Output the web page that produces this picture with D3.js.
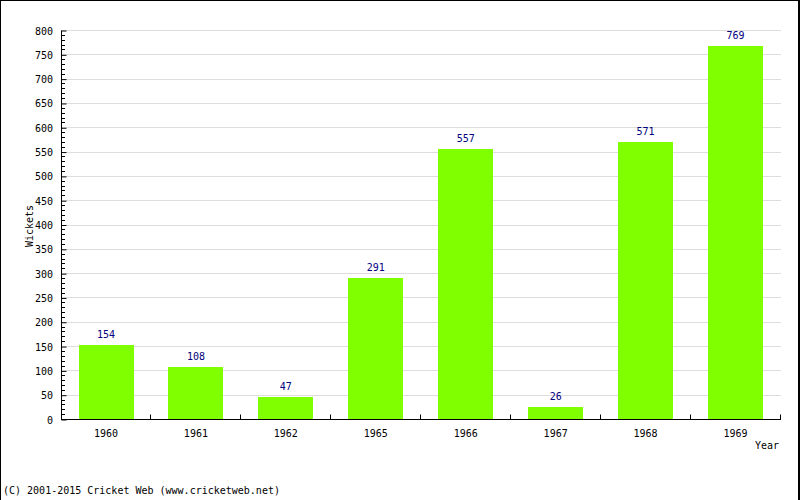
<!DOCTYPE html>
<html>
<head>
<meta charset="utf-8">
<script src="https://cdn.jsdelivr.net/npm/d3@7"></script>
<style>
  html, body { margin: 0; padding: 0; background: #fff; }
  svg { display: block; }
  text { font-family: "DejaVu Sans Mono", monospace; font-size: 10px; }
</style>
</head>
<body>
<svg id="chart" width="800" height="500"></svg>
<script>
const years = ["1960", "1961", "1962", "1965", "1966", "1967", "1968", "1969"];
const wickets = [154, 108, 47, 291, 557, 26, 571, 769];
const yMajorTicks = [0, 50, 100, 150, 200, 250, 300, 350, 400, 450, 500, 550, 600, 650, 700, 750, 800];
const yMinorTicks = d3.range(0, 801, 10);

(function () {
const svg = d3.select("#chart");
const pLeft = 61, pRight = 780.5, pTop = 30.5, pBottom = 419.5;

// frame
svg.append("rect").attr("x", 0).attr("y", 0).attr("width", 800).attr("height", 500).attr("fill", "#fff");
svg.append("line").attr("x1", 0).attr("x2", 800).attr("y1", 0.5).attr("y2", 0.5).attr("stroke", "#000");
svg.append("line").attr("x1", 0.5).attr("x2", 0.5).attr("y1", 0).attr("y2", 500).attr("stroke", "#000");
svg.append("line").attr("x1", 799).attr("x2", 799).attr("y1", 0).attr("y2", 500).attr("stroke", "#000").attr("stroke-width", 2);

const x = d3.scaleBand().domain(years).range([pLeft, pRight]).padding(0);
const y = d3.scaleLinear().domain([0, 800]).range([pBottom, pTop]);
const py = v => Math.round(y(v) - 0.5) + 0.5;

// gridlines
svg.append("g").selectAll("line").data(yMajorTicks.filter(d => d > 0)).join("line")
  .attr("x1", pLeft).attr("x2", pRight + 0.5)
  .attr("y1", d => py(d)).attr("y2", d => py(d))
  .attr("stroke", "#dddddd").attr("stroke-width", 1);

// bars
const barW = x.bandwidth() * 0.61;
svg.append("g").selectAll("rect").data(years).join("rect")
  .attr("x", (d) => Math.round(x(d) + x.bandwidth() / 2 - barW / 2))
  .attr("width", Math.round(barW))
  .attr("y", (d, i) => Math.round(y(wickets[i])))
  .attr("height", (d, i) => pBottom + 0.5 - Math.round(y(wickets[i])))
  .attr("fill", "#7fff00");

// value labels
svg.append("g").selectAll("text").data(years).join("text")
  .attr("x", d => x(d) + x.bandwidth() / 2)
  .attr("y", (d, i) => y(wickets[i]) - 7)
  .attr("text-anchor", "middle")
  .attr("fill", "#000080")
  .text((d, i) => wickets[i]);

// y axis
const yAxis = d3.axisRight(y).tickValues(yMajorTicks).tickSize(5).tickFormat("");
const yg = svg.append("g").attr("transform", `translate(${pLeft + 0.5},0)`).call(yAxis);
yg.select(".domain").remove();
yg.selectAll(".tick line").attr("stroke", "#000");
svg.append("g").selectAll("line").data(yMinorTicks.filter(d => d % 50 !== 0)).join("line")
  .attr("x1", pLeft).attr("x2", pLeft + 4)
  .attr("y1", d => py(d)).attr("y2", d => py(d))
  .attr("stroke", "#000");
svg.append("line").attr("x1", pLeft + 0.5).attr("x2", pLeft + 0.5).attr("y1", pTop).attr("y2", pBottom + 0.5).attr("stroke", "#000");
svg.append("g").selectAll("text").data(yMajorTicks).join("text")
  .attr("x", pLeft - 8).attr("y", d => y(d) + 4)
  .attr("text-anchor", "end").attr("fill", "#000")
  .text(d => d);

// x axis
svg.append("line").attr("x1", pLeft).attr("x2", pRight + 0.5).attr("y1", pBottom).attr("y2", pBottom).attr("stroke", "#000");
const xBounds = years.map(d => x(d)).concat([pRight]);
svg.append("g").selectAll("line").data(xBounds).join("line")
  .attr("x1", d => Math.round(d - 0.5) + 0.5).attr("x2", d => Math.round(d - 0.5) + 0.5)
  .attr("y1", pBottom - 5).attr("y2", pBottom)
  .attr("stroke", "#000");
svg.append("g").selectAll("text").data(years).join("text")
  .attr("x", d => x(d) + x.bandwidth() / 2)
  .attr("y", 437)
  .attr("text-anchor", "middle").attr("fill", "#000")
  .text(d => d);

// axis titles
svg.append("text").attr("x", 779).attr("y", 449).attr("text-anchor", "end").text("Year");
svg.append("text").attr("transform", "translate(33,226) rotate(-90)").attr("text-anchor", "middle").text("Wickets");

// copyright
svg.append("text").attr("x", 3).attr("y", 494).text("(C) 2001-2015 Cricket Web (www.cricketweb.net)");
})();
</script>
</body>
</html>
